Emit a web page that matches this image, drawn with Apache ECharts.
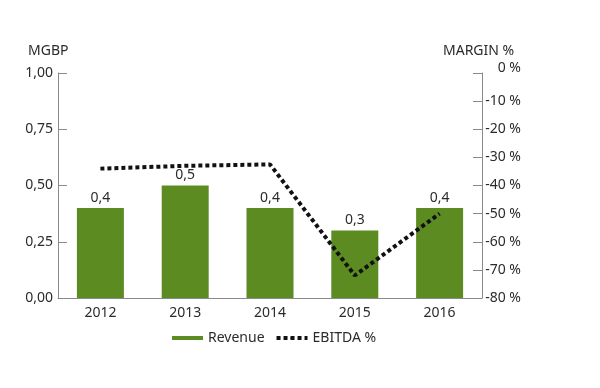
<!DOCTYPE html>
<html><head><meta charset="utf-8">
<script src="https://cdn.jsdelivr.net/npm/echarts@6/dist/echarts.min.js"></script>
<style>html,body{margin:0;padding:0;background:#fff}#c{width:600px;height:388px}</style>
</head><body><div id="c"></div>
<script>
var years = ['2012','2013','2014','2015','2016'];
var revenue = [0.4, 0.5, 0.4, 0.3, 0.4];
var ebitdaMargin = [-34, -33, -32.5, -72, -50];
var leftTitle = 'MGBP';
var rightTitle = 'MARGIN %';

var FONT = '"Noto Sans", sans-serif';
var TXT = '#2b2b2b';
var AX = '#8a8a8a';
var GREEN = '#5c8b22';

var chart = echarts.init(document.getElementById('c'));
chart.setOption({
  animation: false,
  textStyle: {fontFamily: FONT},
  grid: {left: 58, right: 118, top: 73, bottom: 90},
  legend: {
    bottom: 38, left: 167,
    itemWidth: 31, itemHeight: 4, itemGap: 10,
    textStyle: {fontFamily: FONT, fontSize: 14, color: TXT},
    data: [
      {name: 'Revenue', icon: 'rect'},
      {name: 'EBITDA %', lineStyle: {width: 4, type: [4, 3], color: '#111'}}
    ]
  },
  graphic: [
    {type: 'text', left: 28, top: 44, style: {text: leftTitle, font: '14px ' + FONT, fill: TXT}},
    {type: 'text', left: 443, top: 44, style: {text: rightTitle, font: '14px ' + FONT, fill: TXT}}
  ],
  xAxis: {
    type: 'category', data: years,
    axisLine: {lineStyle: {color: AX, width: 1}},
    axisTick: {show: false},
    axisLabel: {color: TXT, fontSize: 14, margin: 8, fontFamily: FONT}
  },
  yAxis: [{
    type: 'value', min: 0, max: 1, interval: 0.25,
    axisLine: {show: true, lineStyle: {color: AX}},
    axisTick: {show: true, inside: true, length: 9, lineStyle: {color: AX}},
    splitLine: {show: false},
    axisLabel: {color: TXT, fontSize: 14, margin: 5, fontFamily: FONT,
      formatter: function (v) { return v.toFixed(2).replace('.', ','); }}
  }, {
    type: 'value', min: -80, max: 0, interval: 10, position: 'right',
    axisLine: {show: true, lineStyle: {color: AX}},
    axisTick: {show: true, inside: true, length: 9, lineStyle: {color: AX}},
    splitLine: {show: false},
    axisLabel: {color: TXT, fontSize: 14, margin: 39, align: 'right', fontFamily: FONT,
      formatter: function (v) { return v === 0 ? '{top|0 %}' : v + ' %'; },
      rich: {top: {fontSize: 14, color: TXT, fontFamily: FONT, padding: [0, 0, 10, 0]}}}
  }],
  series: [{
    name: 'Revenue', type: 'bar', data: revenue,
    barWidth: 47,
    itemStyle: {color: GREEN},
    label: {show: true, position: 'top', distance: 3, color: TXT, fontSize: 14, fontFamily: FONT,
      formatter: function (p) { return String(p.value).replace('.', ','); }}
  }, {
    name: 'EBITDA %', type: 'line', yAxisIndex: 1, data: ebitdaMargin,
    symbol: 'none', z: 5,
    itemStyle: {color: '#111'},
    lineStyle: {color: '#111', width: 4, type: [4, 3]}
  }]
});
</script>
</body></html>
